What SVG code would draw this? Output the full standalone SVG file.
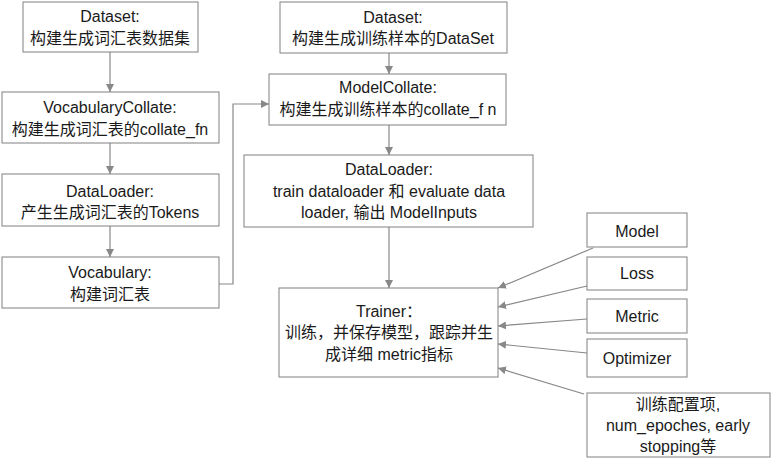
<svg xmlns="http://www.w3.org/2000/svg" width="771" height="459" viewBox="0 0 771 459">
<style>
.box{fill:#fff;stroke:#808080;stroke-width:1}
.t{font-family:"Liberation Sans","Noto Sans CJK SC",sans-serif;font-size:16px;fill:#1a1a1a;text-anchor:middle}
.c{fill:none;stroke:#888;stroke-width:1.2}
</style>
<defs>
<marker id="a" viewBox="0 0 10 10" refX="10" refY="5" markerWidth="8" markerHeight="8" markerUnits="userSpaceOnUse" orient="auto">
<path d="M0,0L10,5L0,10z" fill="#888"/>
</marker>
</defs>
<rect width="771" height="459" fill="#fff"/>
<g id="connectors">
<path class="c" d="M110,52V92" marker-end="url(#a)"/>
<path class="c" d="M110,143V174" marker-end="url(#a)"/>
<path class="c" d="M110,226V257" marker-end="url(#a)"/>
<path class="c" d="M219,284H233V104H269" marker-end="url(#a)"/>
<path class="c" d="M389,53V74" marker-end="url(#a)"/>
<path class="c" d="M389,125V155" marker-end="url(#a)"/>
<path class="c" d="M389,227V288" marker-end="url(#a)"/>
<path class="c" d="M593,248L498,288" marker-end="url(#a)"/>
<path class="c" d="M587,286L498,307" marker-end="url(#a)"/>
<path class="c" d="M587,319L498,326" marker-end="url(#a)"/>
<path class="c" d="M587,353L498,344" marker-end="url(#a)"/>
<path class="c" d="M584,394L498,368" marker-end="url(#a)"/>
</g>
<g id="dataset1"><rect class="box" x="23" y="2" width="175" height="50"/><text class="t" x="110" y="22">Dataset:</text><text class="t" x="110" y="44">构建生成词汇表数据集</text></g>
<g id="vocabcollate"><rect class="box" x="2" y="92" width="217" height="51"/><text class="t" x="110" y="113">VocabularyCollate:</text><text class="t" x="110" y="135">构建生成词汇表的collate_fn</text></g>
<g id="dataloader1"><rect class="box" x="2" y="174" width="217" height="52"/><text class="t" x="110" y="197">DataLoader:</text><text class="t" x="110" y="218">产生生成词汇表的Tokens</text></g>
<g id="vocabulary"><rect class="box" x="2" y="257" width="217" height="51"/><text class="t" x="110" y="278">Vocabulary:</text><text class="t" x="110" y="300">构建词汇表</text></g>
<g id="dataset2"><rect class="box" x="280" y="2" width="227" height="51"/><text class="t" x="393" y="23">Dataset:</text><text class="t" x="393" y="44">构建生成训练样本的DataSet</text></g>
<g id="modelcollate"><rect class="box" x="269" y="74" width="237" height="51"/><text class="t" x="388" y="93">ModelCollate:</text><text class="t" x="388" y="115">构建生成训练样本的collate_f n</text></g>
<g id="dataloader2"><rect class="box" x="244" y="155" width="289" height="72"/><text class="t" x="389" y="175">DataLoader:</text><text class="t" x="389" y="197">train dataloader 和 evaluate data</text><text class="t" x="389" y="218">loader, 输出 ModelInputs</text></g>
<g id="trainer"><rect class="box" x="279" y="288" width="219" height="89"/><text class="t" x="389" y="317">Trainer：</text><text class="t" x="389" y="338">训练，并保存模型，跟踪并生</text><text class="t" x="389" y="360">成详细 metric指标</text></g>
<g id="model"><rect class="box" x="587" y="213" width="100" height="34"/><text class="t" x="637" y="237">Model</text></g>
<g id="loss"><rect class="box" x="587" y="257" width="100" height="33"/><text class="t" x="637" y="279">Loss</text></g>
<g id="metric"><rect class="box" x="587" y="299" width="100" height="34"/><text class="t" x="637" y="322">Metric</text></g>
<g id="optimizer"><rect class="box" x="587" y="339" width="100" height="38"/><text class="t" x="637" y="364">Optimizer</text></g>
<g id="config"><rect class="box" x="587" y="393" width="183" height="64"/><text class="t" x="678" y="410">训练配置项,</text><text class="t" x="678" y="431">num_epoches, early</text><text class="t" x="678" y="452">stopping等</text></g>
</svg>
